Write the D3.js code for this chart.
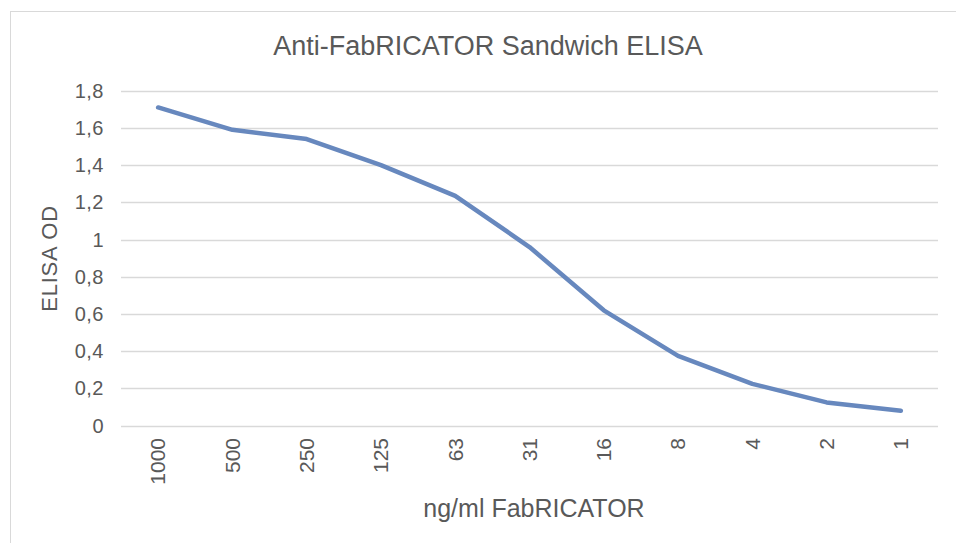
<!DOCTYPE html>
<html>
<head>
<meta charset="utf-8">
<script src="https://cdn.jsdelivr.net/npm/d3@7"></script>
<style>
  html, body { margin: 0; padding: 0; background: #fff; overflow: hidden; }
  text { font-family: "Liberation Sans", Arial, Helvetica, sans-serif; fill: #595959; }
</style>
</head>
<body>
<div id="chart"></div>
<script>
// dilution series
var concentrations = ["1000", "500", "250", "125", "63", "31", "16", "8", "4", "2", "1"];
var odValues = [1.71, 1.59, 1.54, 1.40, 1.235, 0.96, 0.62, 0.375, 0.225, 0.125, 0.08];
var yTicks = [0, 0.2, 0.4, 0.6, 0.8, 1, 1.2, 1.4, 1.6, 1.8];

var width = 956, height = 543;
var plot = {left: 121, right: 938, top: 90.7, bottom: 425.7};

var svg = d3.select("#chart").append("svg")
	.attr("width", width)
	.attr("height", height);

// chart area border (runs off the window on right and bottom)
svg.append("rect")
	.attr("x", 10.5).attr("y", 11.5)
	.attr("width", 970).attr("height", 560)
	.attr("fill", "#fff")
	.attr("stroke", "#d9d9d9");

var x = d3.scaleBand()
	.domain(concentrations)
	.range([plot.left, plot.right]);

var y = d3.scaleLinear()
	.domain([0, 1.8])
	.range([plot.bottom, plot.top]);

var fmt = d => d3.format("")(d).replace(".", ",");

// gridlines
svg.append("g")
	.selectAll("line")
	.data(yTicks)
	.join("line")
		.attr("x1", plot.left).attr("x2", plot.right)
		.attr("y1", d => Math.round(y(d)) + 0.5)
		.attr("y2", d => Math.round(y(d)) + 0.5)
		.attr("stroke", "#d9d9d9")
		.attr("stroke-width", 1.4);

// y tick labels
svg.append("g")
	.attr("font-size", 20)
	.attr("letter-spacing", 0.5)
	.selectAll("text")
	.data(yTicks)
	.join("text")
		.attr("x", 104)
		.attr("y", d => y(d))
		.attr("dy", "0.35em")
		.attr("text-anchor", "end")
		.text(fmt);

// x tick labels, rotated
svg.append("g")
	.attr("font-size", 21)
	.selectAll("text")
	.data(concentrations)
	.join("text")
		.attr("transform", d => `translate(${x(d) + x.bandwidth() / 2},438) rotate(-90)`)
		.attr("dy", "0.35em")
		.attr("text-anchor", "end")
		.text(d => d);

// the curve
var line = d3.line()
	.x((d, i) => x(concentrations[i]) + x.bandwidth() / 2)
	.y(d => y(d));

svg.append("path")
	.datum(odValues)
	.attr("d", line)
	.attr("fill", "none")
	.attr("stroke", "#6788be")
	.attr("stroke-width", 4.5)
	.attr("stroke-linejoin", "round")
	.attr("stroke-linecap", "round");

// titles
svg.append("text")
	.attr("x", 488).attr("y", 55)
	.attr("text-anchor", "middle")
	.attr("font-size", 27)
	.text("Anti-FabRICATOR Sandwich ELISA");

svg.append("text")
	.attr("x", 534).attr("y", 517)
	.attr("text-anchor", "middle")
	.attr("font-size", 25)
	.text("ng/ml FabRICATOR");

svg.append("text")
	.attr("transform", "translate(57,258.5) rotate(-90)")
	.attr("text-anchor", "middle")
	.attr("font-size", 22)
	.attr("letter-spacing", 0.8)
	.text("ELISA OD");
</script>
</body>
</html>
